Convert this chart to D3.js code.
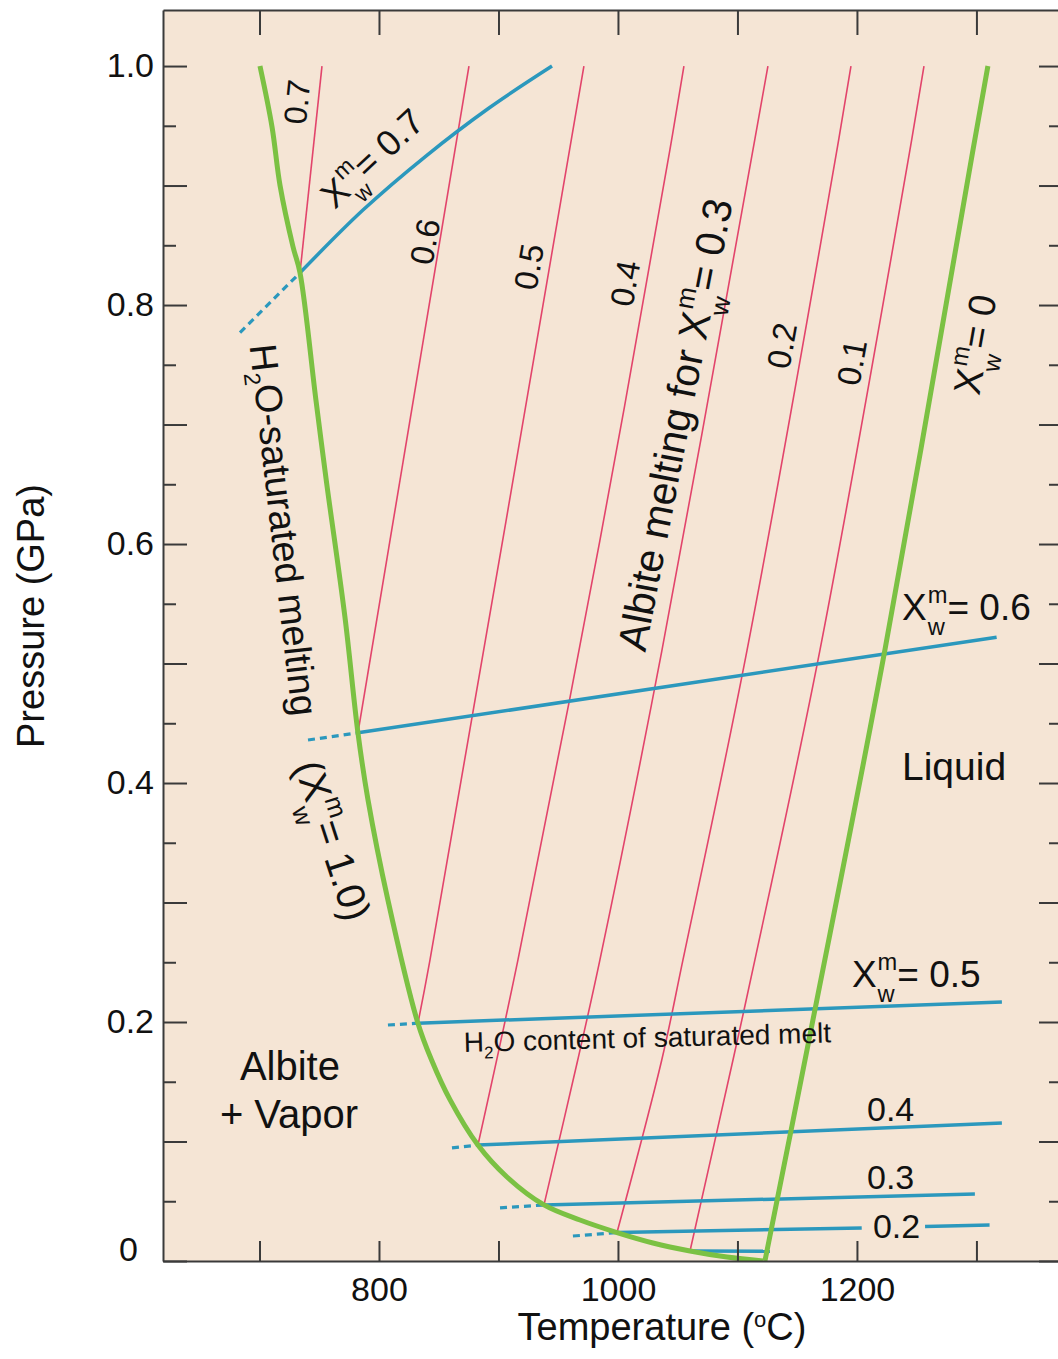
<!DOCTYPE html>
<html><head><meta charset="utf-8">
<script src="https://cdn.jsdelivr.net/npm/d3@7"></script>
<style>
body{margin:0;background:#fff;}
svg{display:block;}
text{font-family:"Liberation Sans",Arial,Helvetica,sans-serif;fill:#111;white-space:pre;}
</style>
</head><body>
<svg id="chart" width="1058" height="1359"></svg>
<script>
// ---------- data ----------
const xTicks = [700, 800, 900, 1000, 1100, 1200, 1300];
const xTickLabels = ["", "800", "", "1000", "", "1200", ""];
const yMajorTicks = [0, 0.1, 0.2, 0.3, 0.4, 0.5, 0.6, 0.7, 0.8, 0.9, 1.0];
const yMinorTicks = [0.05, 0.15, 0.25, 0.35, 0.45, 0.55, 0.65, 0.75, 0.85, 0.95];
const yTickLabels = ["0", "", "0.2", "", "0.4", "", "0.6", "", "0.8", "", "1.0"];

// H2O-saturated solidus (T in °C, P in GPa)
const solidus = [[700.4,1.0],[710.5,0.949],[717.2,0.9],[728,0.849],[733.9,0.827],[747.3,0.72],[756.2,0.651],
  [771.5,0.539],[782.4,0.442],[790.8,0.386],[807.5,0.302],[832.6,0.199],[844.1,0.168],[859.4,0.135],
  [882.8,0.097],[906.9,0.0705],[938.1,0.0469],[968.2,0.0343],[999.2,0.0238],[1029.3,0.0151],
  [1060.3,0.0084],[1091.2,0.0033],[1121.3,0]];
// dry liquidus X_w^m = 0
const liquidus = [[1123,0],[1158.2,0.1766],[1223.4,0.5113],[1297.1,0.9297],[1309.6,1.0]];

// albite melting isopleths for given X_w^m
const isoValues = [0.7, 0.6, 0.5, 0.4, 0.3, 0.2, 0.1];
const isoPoints = [
  [[733.9,0.827],[752.3,1.0]],
  [[782.4,0.442],[875.3,1.0]],
  [[832.6,0.199],[842.7,0.252],[971.5,1.0]],
  [[882.8,0.097],[916.3,0.252],[984.9,0.603],[1043.5,0.930],[1055.2,1.0]],
  [[938.1,0.047],[966.3,0.168],[984.9,0.252],[1036.8,0.511],[1113,0.930],[1125.5,1.0]],
  [[999.2,0.0238],[1036.6,0.168],[1054.4,0.252],[1108,0.511],[1183.3,0.930],[1195,1.0]],
  [[1060.3,0.0084],[1097.1,0.172],[1114.6,0.252],[1169,0.511],[1244.4,0.930],[1256.1,1.0]]
];

// H2O content of saturated melt
const meltValues = [0.7, 0.6, 0.5, 0.4, 0.3, 0.2, 0.1];
const meltDashed = [
  [[683.7,0.777],[733.9,0.827]],
  [[740.6,0.436],[782.4,0.442]],
  [[807.5,0.1975],[832.6,0.199]],
  [[861.1,0.0946],[882.8,0.097]],
  [[901.3,0.0444],[938.1,0.0469]],
  [[962.3,0.0209],[999.2,0.0238]],
  []
];
const meltSolid = [
  [[[733.9,0.827],[786.6,0.8795],[839.3,0.9247],[892.1,0.9649],[944.8,1.0]]],
  [[[782.4,0.442],[1316.9,0.522]]],
  [[[832.6,0.199],[1321.3,0.2167]]],
  [[[882.8,0.097],[1321.3,0.1155]]],
  [[[938.1,0.0469],[1298.7,0.0561]]],
  [[[999.2,0.0238],[1204,0.0276]],[[1257,0.0288],[1311,0.0301]]],
  [[[1060.3,0.0084],[1127.2,0.0082]]]
];

// ---------- layout ----------
const svg = d3.select("#chart");
const L = 163, R = 1059, T = 10, B = 1261;
const x = d3.scaleLinear().domain([619.25, 1369.1]).range([L, R]);
const y = d3.scaleLinear().domain([0, 1.0469]).range([B, T]);

const C = {bg:"#f5e5d5", axis:"#3a3a3a", green:"#7bc143", blue:"#2b98bd", red:"#e2446b"};

svg.append("rect").attr("x", L).attr("y", T).attr("width", R - L).attr("height", B - T).attr("fill", C.bg);
svg.append("clipPath").attr("id","clip").append("rect").attr("x", L).attr("y", T).attr("width", R - L).attr("height", B - T);

const line = d3.line().x(d => x(d[0])).y(d => y(d[1]));
const smooth = d3.line().x(d => x(d[0])).y(d => y(d[1])).curve(d3.curveCatmullRom.alpha(0.5));
const plot = svg.append("g").attr("clip-path","url(#clip)");

// red isopleths
isoPoints.forEach(pts => {
  plot.append("path").attr("d", smooth(pts)).attr("fill","none").attr("stroke", C.red).attr("stroke-width", 1.6);
});
// blue lines
meltValues.forEach((v, i) => {
  if (meltDashed[i].length) plot.append("path").attr("d", line(meltDashed[i])).attr("fill","none")
    .attr("stroke", C.blue).attr("stroke-width", 3.2).attr("stroke-dasharray","7,5");
  meltSolid[i].forEach(seg => {
    plot.append("path").attr("d", seg.length > 2 ? smooth(seg) : line(seg)).attr("fill","none")
      .attr("stroke", C.blue).attr("stroke-width", 3.5);
  });
});
// green
plot.append("path").attr("d", smooth(solidus)).attr("fill","none").attr("stroke", C.green).attr("stroke-width", 5);
plot.append("path").attr("d", smooth(liquidus)).attr("fill","none").attr("stroke", C.green).attr("stroke-width", 5);

// ---------- axes ----------
function styleAxis(g){
  g.selectAll(".domain").attr("stroke", C.axis).attr("stroke-width", 2);
  g.selectAll(".tick line").attr("stroke", C.axis).attr("stroke-width", 2);
  g.selectAll(".tick text").attr("font-size", 34).attr("fill","#111")
    .attr("font-family",'"Liberation Sans",Arial,Helvetica,sans-serif');
}
const gb = svg.append("g").attr("transform",`translate(0,${B})`)
  .call(d3.axisBottom(x).tickValues(xTicks).tickSize(-20).tickSizeOuter(0).tickPadding(16)
    .tickFormat((d,i) => xTickLabels[i]));
styleAxis(gb);
const gt = svg.append("g").attr("transform",`translate(0,${T})`)
  .call(d3.axisTop(x).tickValues(xTicks).tickSize(-25).tickSizeOuter(0).tickFormat(""));
styleAxis(gt);
const gl = svg.append("g").attr("transform",`translate(${L},0)`)
  .call(d3.axisLeft(y).tickValues(yMajorTicks).tickSize(-24).tickSizeOuter(0).tickPadding(9)
    .tickFormat((d,i) => yTickLabels[i]));
styleAxis(gl);
gl.selectAll(".tick text").filter(d => d === 0).attr("transform","translate(-16,-11)");
const gl2 = svg.append("g").attr("transform",`translate(${L},0)`)
  .call(d3.axisLeft(y).tickValues(yMinorTicks).tickSize(-13).tickSizeOuter(0).tickFormat(""));
styleAxis(gl2); gl2.select(".domain").remove();
const gr = svg.append("g").attr("transform",`translate(${R},0)`)
  .call(d3.axisRight(y).tickValues(yMajorTicks).tickSize(-20).tickSizeOuter(0).tickFormat(""));
styleAxis(gr); gr.select(".domain").remove();
const gr2 = svg.append("g").attr("transform",`translate(${R},0)`)
  .call(d3.axisRight(y).tickValues(yMinorTicks).tickSize(-10).tickSizeOuter(0).tickFormat(""));
styleAxis(gr2); gr2.select(".domain").remove();

// axis titles
const xt = svg.append("text").attr("x", 662).attr("y", 1340).attr("text-anchor","middle").attr("font-size", 38);
xt.append("tspan").text("Temperature (");
xt.append("tspan").attr("font-size", 22).attr("dy", -13).text("o");
xt.append("tspan").attr("dy", 13).text("C)");
svg.append("text").attr("transform","translate(44,616) rotate(-90)").attr("text-anchor","middle")
  .attr("font-size", 38).text("Pressure (GPa)");

// ---------- labels ----------
function rich(g, pre, hasX, post, fs){
  let cx = 0;
  const add = (txt, xx, yy, size) => g.append("text").attr("x", xx).attr("y", yy).attr("font-size", size)
      .text(txt).node().getComputedTextLength();
  if (pre) cx += add(pre, cx, 0, fs);
  if (hasX){
    cx += add("X", cx, 0, fs);
    const ss = fs * 0.64;
    const wm = add("m", cx + 1, -fs * 0.46, ss);
    const ww = add("w", cx + 1, fs * 0.40, ss);
    cx += Math.max(wm, ww) + 1;
  }
  if (post) cx += add(post, cx, 0, fs);
  return cx;
}
// rotated labels: centered at (Tc, Pc)
const rotLabels = [
  {pre:"0.7", X:false, post:"", Tc:731.4, Pc:0.970, rot:-84, fs:32},
  {pre:"", X:true, post:"= 0.7", Tc:794.1, Pc:0.923, rot:-43, fs:36},
  {pre:"0.6", X:false, post:"", Tc:838.5, Pc:0.853, rot:-80, fs:33},
  {pre:"0.5", X:false, post:"", Tc:925.5, Pc:0.832, rot:-80, fs:33},
  {pre:"0.4", X:false, post:"", Tc:1005.9, Pc:0.818, rot:-80, fs:33},
  {pre:"Albite melting for ", X:true, post:"= 0.3", Tc:1047.7, Pc:0.70, rot:-79, fs:41},
  {pre:"0.2", X:false, post:"", Tc:1137.2, Pc:0.766, rot:-80, fs:33},
  {pre:"0.1", X:false, post:"", Tc:1195.8, Pc:0.752, rot:-80, fs:33},
  {pre:"", X:true, post:"= 0", Tc:1298.7, Pc:0.767, rot:-80, fs:38},
  {pre:"(", X:true, post:"= 1.0)", Tc:761.5, Pc:0.352, rot:72, fs:40}
];
rotLabels.forEach(l => {
  const g = svg.append("g").attr("transform",`translate(${x(l.Tc)},${y(l.Pc)}) rotate(${l.rot})`);
  const inner = g.append("g");
  const w = rich(inner, l.pre, l.X, l.post, l.fs);
  inner.attr("transform",`translate(${-w/2},${l.fs*0.35})`);
});
// H2O-saturated melting
{
  const g = svg.append("g").attr("transform",`translate(${x(720.5)},${y(0.612)}) rotate(83.5)`);
  const t = g.append("text").attr("font-size", 38);
  t.append("tspan").text("H");
  t.append("tspan").attr("font-size", 23).attr("dy", 9).text("2");
  t.append("tspan").attr("dy", -9).text("O-saturated melting");
  const w = t.node().getComputedTextLength();
  t.attr("transform",`translate(${-w/2},${38*0.35})`);
}
// horizontal labels: start anchored at baseline
const hLabels = [
  {pre:"", X:true, post:"= 0.6", Ts:1237.7, Ps:0.5364, fs:37},
  {pre:"Liquid", X:false, post:"", Ts:1237.7, Ps:0.4025, fs:39},
  {pre:"", X:true, post:"= 0.5", Ts:1195.8, Ps:0.2293, fs:37},
  {pre:"0.4", X:false, post:"", Ts:1208.4, Ps:0.1172, fs:34},
  {pre:"0.3", X:false, post:"", Ts:1208.4, Ps:0.0603, fs:34},
  {pre:"0.2", X:false, post:"", Ts:1213.4, Ps:0.0192, fs:34}
];
hLabels.forEach(l => {
  const g = svg.append("g").attr("transform",`translate(${x(l.Ts)},${y(l.Ps)})`);
  rich(g, l.pre, l.X, l.post, l.fs);
});
// Albite + Vapor
svg.append("text").attr("x", x(725.5)).attr("y", y(0.1515)).attr("text-anchor","middle").attr("font-size", 40).text("Albite");
svg.append("text").attr("x", x(724.7)).attr("y", y(0.1113)).attr("text-anchor","middle").attr("font-size", 40).text("+ Vapor");
// H2O content of saturated melt
{
  const t = svg.append("text").attr("transform",`translate(${x(871.1)},${y(0.1749)}) rotate(-1.5)`).attr("font-size", 28);
  t.append("tspan").text("H");
  t.append("tspan").attr("font-size", 17).attr("dy", 7).text("2");
  t.append("tspan").attr("dy", -7).text("O content of saturated melt");
}
</script>
</body></html>
